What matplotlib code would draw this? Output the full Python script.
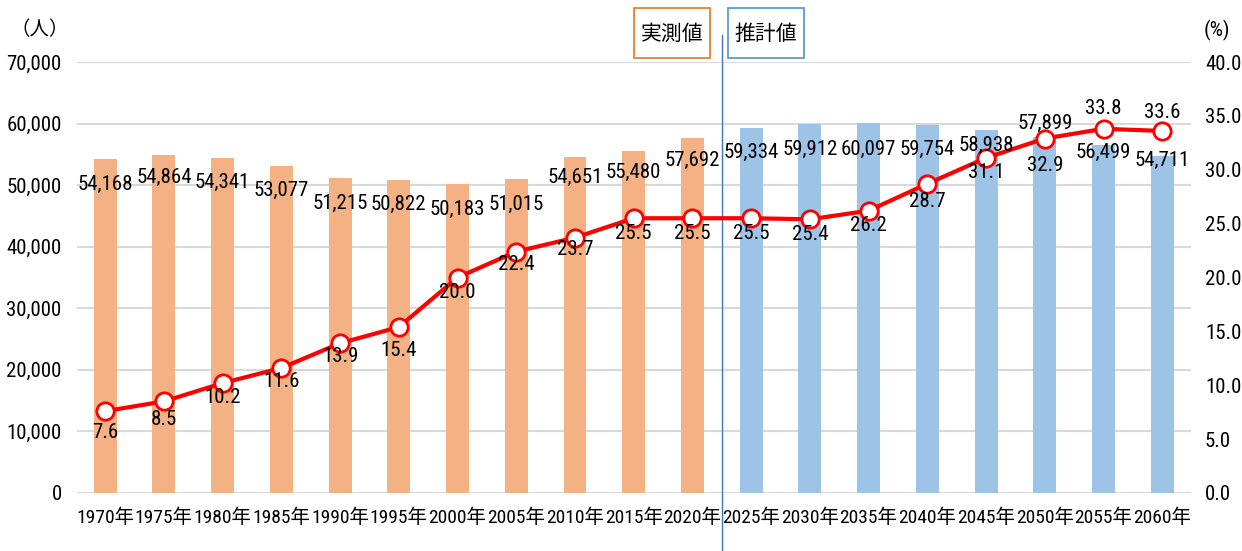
import matplotlib
matplotlib.use("Agg")
import matplotlib.pyplot as plt
from matplotlib.patches import Rectangle
import numpy as np

years = ["1970年", "1975年", "1980年", "1985年", "1990年", "1995年", "2000年",
         "2005年", "2010年", "2015年", "2020年", "2025年", "2030年", "2035年",
         "2040年", "2045年", "2050年", "2055年", "2060年"]
population = [54168, 54864, 54341, 53077, 51215, 50822, 50183, 51015, 54651,
              55480, 57692, 59334, 59912, 60097, 59754, 58938, 57899, 56499, 54711]
ratio = [7.6, 8.5, 10.2, 11.6, 13.9, 15.4, 20.0, 22.4, 23.7, 25.5, 25.5,
         25.5, 25.4, 26.2, 28.7, 31.1, 32.9, 33.8, 33.6]
n_actual = 11  # 1970-2020 are measured, the rest projected

# label offsets in pixels (negative = below)
bar_off = [-25, -22, -24, -24, -26, -24, -25, -25, -21, -21, -23,
           -25, -25, -26, -24, -15, 13, -7, -4]
line_off = [-21, -18, -14, -13, -13, -23, -15, -13, -12, -15, -15,
            -15, -15, -15, -18, -15, -27, 20, 18]

plt.rcParams['font.family'] = ['Roboto Condensed', 'Noto Sans CJK JP', 'DejaVu Sans']

W, H = 1242, 551
fig = plt.figure(figsize=(W / 100, H / 100), dpi=100)
ax = fig.add_axes([77 / W, 1 - 493 / H, (1191 - 77) / W, 431 / H])

x = np.arange(len(years))
colors = ['#F4B183'] * n_actual + ['#9DC3E6'] * (len(years) - n_actual)
ax.bar(x, population, width=0.39, color=colors, zorder=2)
ax.set_xlim(-0.48, 18.49)
ax.set_ylim(0, 70000)
ax.set_yticks(range(0, 70001, 10000))
ax.set_yticklabels([f"{v:,}" for v in range(0, 70001, 10000)])
ax.set_xticks(x)
ax.set_xticklabels(years)
ax.grid(axis='y', color='#D9D9D9', lw=1.5, zorder=0)
ax.set_axisbelow(True)
for s in ax.spines.values():
    s.set_visible(False)
ax.tick_params(axis='y', length=0, labelsize=15, pad=11)
ax.tick_params(axis='x', length=0, labelsize=14, pad=11)

ax2 = ax.twinx()
ax2.set_ylim(0, 40)
ax2.set_yticks(np.arange(0, 40.1, 5))
ax2.set_yticklabels([f"{v:.1f}" for v in np.arange(0, 40.1, 5)])
ax2.tick_params(axis='y', length=0, labelsize=15, pad=10)
for s in ax2.spines.values():
    s.set_visible(False)

ax2.plot(x, ratio, color='#FF0000', lw=3, marker='o', ms=12.5,
         mfc='white', mec='#FF0000', mew=2, zorder=3)

for i in range(len(years)):
    ax2.annotate(f"{population[i]:,}", xy=(x[i], population[i]), xycoords=ax.transData,
                 xytext=(0, bar_off[i]), textcoords='offset pixels',
                 ha='center', va='center', fontsize=15, zorder=5)
    ax2.annotate(f"{ratio[i]:.1f}", xy=(x[i], ratio[i]),
                 xytext=(0, line_off[i]), textcoords='offset pixels',
                 ha='center', va='center', fontsize=15, zorder=5)

# divider between measured and projected
ax.axvline(n_actual - 0.5, ymin=-0.14, ymax=1.063, color='#4472C4', lw=1,
           clip_on=False, zorder=4)

# legend-like boxes
fig.add_artist(Rectangle((634 / W, 1 - 58 / H), 76 / W, 50 / H, transform=fig.transFigure,
                         fc='white', ec='#ED7D31', lw=1.3))
fig.add_artist(Rectangle((728 / W, 1 - 58 / H), 76 / W, 50 / H, transform=fig.transFigure,
                         fc='white', ec='#5B9BD5', lw=1.3))
fig.text(672 / W, 1 - 34 / H, "実測値", ha='center', va='center', fontsize=15,
         family=['Noto Sans CJK JP'])
fig.text(766 / W, 1 - 34 / H, "推計値", ha='center', va='center', fontsize=15,
         family=['Noto Sans CJK JP'])

fig.text(40 / W, 1 - 30 / H, "（人）", ha='center', va='center', fontsize=14,
         family=['Noto Sans CJK JP'])
fig.text(1217 / W, 1 - 30 / H, "(%)", ha='center', va='center', fontsize=15)

fig.savefig("out.png", dpi=100)
